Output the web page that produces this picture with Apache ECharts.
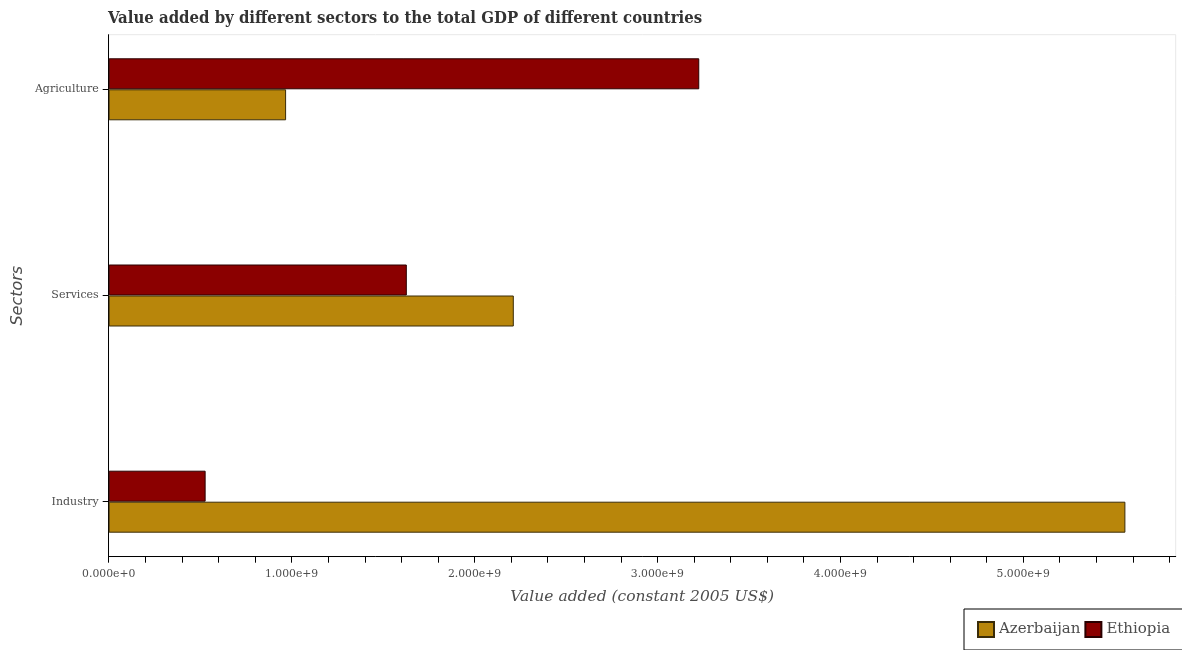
<!DOCTYPE html>
<html>
<head>
<meta charset="utf-8">
<script src="https://cdn.jsdelivr.net/npm/echarts@6/dist/echarts.min.js"></script>
<style>
html,body{margin:0;padding:0;background:#fff;}
#chart{width:1182px;height:650px;}
</style>
</head>
<body>
<div id="chart"></div>
<script>
const sectors = ['Industry', 'Services', 'Agriculture'];
const azerbaijan = [5.559e9, 2.215e9, 0.970e9];
const ethiopia = [0.530e9, 1.630e9, 3.229e9];
const countries = ['Azerbaijan', 'Ethiopia'];
const xLabelValues = [0, 1e9, 2e9, 3e9, 4e9, 5e9];
const xTickValues = [0, 2e8, 4e8, 6e8, 8e8, 1e9, 1.2e9, 1.4e9, 1.6e9, 1.8e9, 2e9, 2.2e9, 2.4e9, 2.6e9, 2.8e9, 3e9, 3.2e9, 3.4e9, 3.6e9, 3.8e9, 4e9, 4.2e9, 4.4e9, 4.6e9, 4.8e9, 5e9, 5.2e9, 5.4e9, 5.6e9, 5.8e9];
const xMax = 5.834e9;

const serif = "'DejaVu Serif', serif";
const chart = echarts.init(document.getElementById('chart'), null, {renderer: 'canvas'});
const L = 108.7, R = 1182 - 1175.7;

chart.setOption({
  animation: false,
  backgroundColor: '#ffffff',
  title: {
    text: 'Value added by different sectors to the total GDP of different countries',
    left: 108, top: 10, padding: 0,
    textStyle: {fontFamily: "'DejaVu Serif Condensed', 'DejaVu Serif', serif", fontWeight: 'bold', fontSize: 16.6, color: '#333333'}
  },
  legend: {
    data: countries,
    left: 964, top: 609, width: 400,
    orient: 'horizontal',
    padding: [12, 14, 12, 13],
    itemGap: 4,
    itemWidth: 16, itemHeight: 15,
    icon: 'rect',
    borderColor: '#000000', borderWidth: 1,
    textStyle: {fontFamily: serif, fontSize: 15, color: '#4d4d4d'}
  },
  grid: [
    {left: L, right: R, top: 89.3, bottom: 650 - 501.7, show: false, containLabel: false},
    {left: L, right: R, top: 34.7, bottom: 650 - 556.7, show: true, borderColor: '#e8e8e8', borderWidth: 1, backgroundColor: 'transparent', containLabel: false}
  ],
  xAxis: [
    {gridIndex: 0, type: 'value', min: 0, max: xMax, show: false},
    {gridIndex: 1, type: 'value', min: 0, max: xMax,
      name: 'Value added (constant 2005 US$)', nameLocation: 'middle', nameGap: 32,
      nameTextStyle: {fontFamily: serif, fontStyle: 'italic', fontSize: 15.5, color: '#4d4d4d'},
      axisLine: {show: true, lineStyle: {color: '#000000', width: 1}},
      axisTick: {show: true, length: 6, lineStyle: {color: '#000000'}, customValues: xTickValues},
      axisLabel: {show: true, margin: 12, fontFamily: serif, fontSize: 10.8, color: '#4d4d4d',
        customValues: xLabelValues,
        formatter: v => Number(v).toExponential(3)},
      splitLine: {show: false}
    }
  ],
  yAxis: [
    {gridIndex: 0, type: 'category', data: sectors, boundaryGap: false,
      axisLine: {show: false},
      axisTick: {show: true, length: 6, lineStyle: {color: '#000000'}},
      axisLabel: {margin: 10, fontFamily: serif, fontSize: 11, color: '#4d4d4d'}
    },
    {gridIndex: 1, type: 'value', min: 0, max: 1,
      name: 'Sectors', nameLocation: 'middle', nameGap: 83, nameRotate: 90,
      nameTextStyle: {fontFamily: "'DejaVu Sans', sans-serif", fontStyle: 'italic', fontSize: 16, color: '#4d4d4d'},
      axisLine: {show: true, lineStyle: {color: '#000000', width: 1}},
      axisTick: {show: false}, axisLabel: {show: false}, splitLine: {show: false}
    }
  ],
  series: [
    {name: 'Ethiopia', type: 'bar', xAxisIndex: 0, yAxisIndex: 0, data: ethiopia,
      barWidth: 31, barGap: '0%', clip: false,
      itemStyle: {color: '#8b0000', borderColor: '#2a0000', borderWidth: 1}},
    {name: 'Azerbaijan', type: 'bar', xAxisIndex: 0, yAxisIndex: 0, data: azerbaijan,
      barWidth: 31, barGap: '0%', clip: false,
      itemStyle: {color: '#b8860b', borderColor: '#3a2c08', borderWidth: 1}}
  ]
});
</script>
</body>
</html>
